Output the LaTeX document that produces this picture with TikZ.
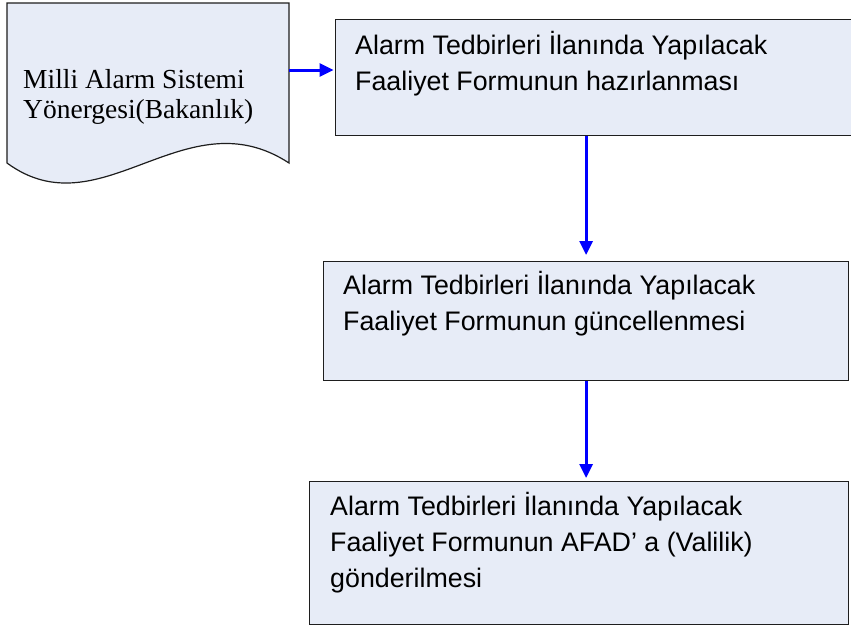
\documentclass[tikz,border=0pt]{standalone}
\usepackage{fontspec}
\setmainfont{Liberation Serif}
\newfontfamily\arialfont{Liberation Sans}
\usetikzlibrary{arrows.meta}
\definecolor{boxfill}{RGB}{231,236,247}
\definecolor{boxline}{RGB}{30,30,30}
\definecolor{arrblue}{RGB}{0,0,255}
\tikzset{
  procbox/.style={draw=boxline, line width=1.2pt, fill=boxfill, rectangle, inner sep=0pt, anchor=north west},
  boxtext/.style={anchor=base west, align=left, inner sep=0pt, font=\arialfont\fontsize{26.8}{36}\selectfont},
  doctext/.style={anchor=base west, align=left, inner sep=0pt, font=\fontsize{27.5}{30}\selectfont},
  arr/.style={draw=arrblue, line width=3pt, -{Triangle[length=14pt,width=13pt]}}
}
\begin{document}
\begin{tikzpicture}[x=1pt,y=-1pt]
\useasboundingbox (0,0) rectangle (851,630);
\clip (0,0) rectangle (851,630);
\fill[white] (0,0) rectangle (851,630);
% document shape
\draw[draw=boxline, line width=1.2pt, fill=boxfill]
  (7,3) -- (289,3) -- (289,163) .. controls (185,95) and (101,232) .. (7,163) -- cycle;
\coordinate (docR) at (289,70);
\node[doctext] (dt) at (23,118) {Milli Alarm Sistemi\\Yönergesi(Bakanlık)};
% boxes
\node[procbox, minimum width=535pt, minimum height=116pt] (b1) at (335,19) {};
\node[procbox, minimum width=525pt, minimum height=119pt] (b2) at (323,261) {};
\node[procbox, minimum width=539pt, minimum height=143pt] (b3) at (309,481) {};
\node[boxtext] (t1) at (355,90) {Alarm Tedbirleri İlanında Yapılacak\\Faaliyet Formunun hazırlanması};
\node[boxtext] (t2) at (343,330) {Alarm Tedbirleri İlanında Yapılacak\\Faaliyet Formunun güncellenmesi};
\node[boxtext] (t3) at (330,587) {Alarm Tedbirleri İlanında Yapılacak\\Faaliyet Formunun AFAD’ a (Valilik)\\gönderilmesi};
% arrows
\draw[arr, shorten >=1.5pt] (docR) -- (docR -| b1.west);
\draw[arr, shorten >=6pt] (b1.south -| b2.north) -- (b2.north);
\draw[arr, shorten >=3pt] (b2.south) -- (b2.south |- b3.north);
\end{tikzpicture}
\end{document}
